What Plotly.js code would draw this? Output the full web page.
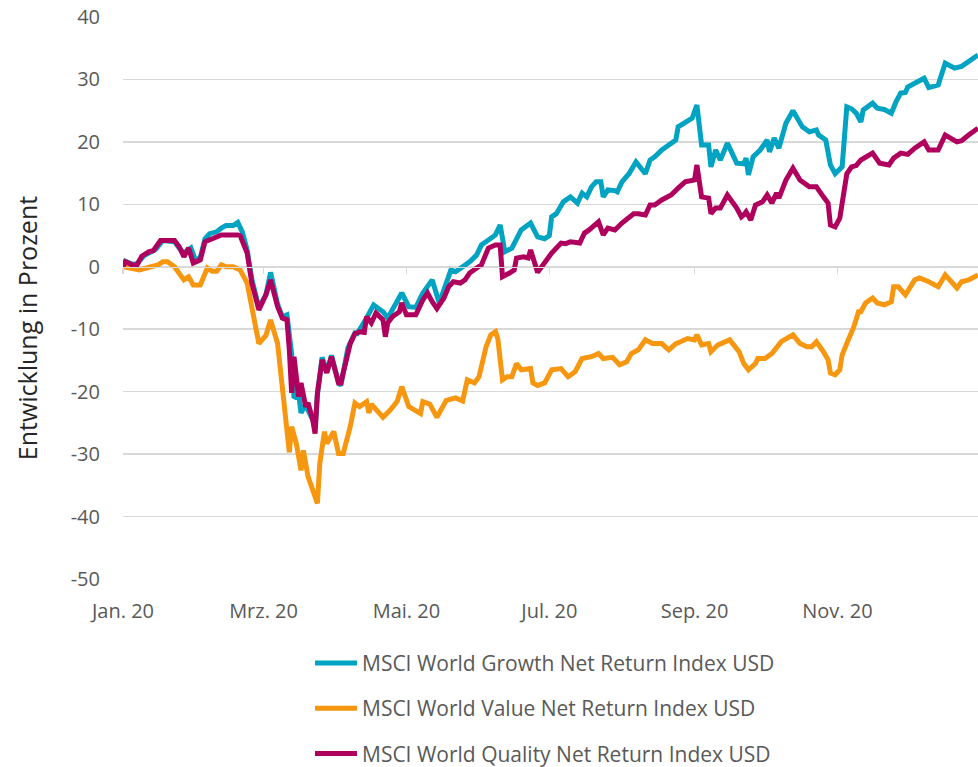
<!DOCTYPE html>
<html>
<head>
<meta charset="utf-8">
<script src="https://cdn.plot.ly/plotly-3.0.1.min.js"></script>
<style>html,body{margin:0;padding:0;background:#fff;}#chart{width:978px;height:767px;}</style>
</head>
<body>
<div id="chart"></div>
<script>
// ---- Data (percent change since 1 Jan 2020) ----
const seriesNames = [
  "MSCI World Growth Net Return Index USD",
  "MSCI World Value Net Return Index USD",
  "MSCI World Quality Net Return Index USD"
];

const growthDates = ["2020-01-01","2020-01-02","2020-01-05","2020-01-07","2020-01-10","2020-01-13","2020-01-15","2020-01-18","2020-01-23","2020-01-25","2020-01-27","2020-01-30","2020-02-01","2020-02-03","2020-02-05","2020-02-07","2020-02-10","2020-02-12","2020-02-14","2020-02-17","2020-02-19","2020-02-21","2020-02-23","2020-02-25","2020-02-28","2020-03-02","2020-03-04","2020-03-07","2020-03-09","2020-03-11","2020-03-13","2020-03-14","2020-03-16","2020-03-17","2020-03-19","2020-03-20","2020-03-22","2020-03-23","2020-03-24","2020-03-26","2020-03-28","2020-03-30","2020-04-02","2020-04-03","2020-04-06","2020-04-09","2020-04-10","2020-04-14","2020-04-17","2020-04-21","2020-04-23","2020-04-25","2020-04-29","2020-05-02","2020-05-05","2020-05-08","2020-05-11","2020-05-12","2020-05-15","2020-05-17","2020-05-20","2020-05-22","2020-05-25","2020-05-28","2020-05-31","2020-06-02","2020-06-05","2020-06-08","2020-06-10","2020-06-12","2020-06-15","2020-06-17","2020-06-19","2020-06-23","2020-06-26","2020-06-29","2020-07-01","2020-07-02","2020-07-04","2020-07-07","2020-07-10","2020-07-13","2020-07-15","2020-07-17","2020-07-19","2020-07-21","2020-07-23","2020-07-24","2020-07-26","2020-07-29","2020-07-30","2020-08-01","2020-08-04","2020-08-07","2020-08-09","2020-08-11","2020-08-13","2020-08-15","2020-08-18","2020-08-21","2020-08-24","2020-08-25","2020-08-28","2020-08-31","2020-09-02","2020-09-04","2020-09-07","2020-09-08","2020-09-10","2020-09-12","2020-09-15","2020-09-19","2020-09-22","2020-09-23","2020-09-24","2020-09-26","2020-09-29","2020-10-02","2020-10-03","2020-10-05","2020-10-07","2020-10-10","2020-10-13","2020-10-15","2020-10-17","2020-10-20","2020-10-23","2020-10-24","2020-10-27","2020-10-29","2020-10-31","2020-11-03","2020-11-05","2020-11-07","2020-11-09","2020-11-11","2020-11-12","2020-11-16","2020-11-18","2020-11-21","2020-11-24","2020-11-26","2020-11-28","2020-11-30","2020-12-01","2020-12-04","2020-12-08","2020-12-10","2020-12-14","2020-12-17","2020-12-21","2020-12-24","2020-12-27","2020-12-31"];
const growthValues = [0.2,0.9,0.4,0.5,1.8,2.4,2.8,4.2,4.0,3.0,2.2,3.0,1.0,1.5,4.5,5.3,5.6,6.2,6.6,6.6,7.1,5.5,2.7,-2.0,-6.5,-4.5,-0.9,-6.0,-8.0,-7.7,-14.0,-21.0,-20.5,-23.4,-22.0,-23.0,-24.5,-25.9,-20.5,-14.5,-16.8,-14.2,-18.5,-19.0,-13.0,-10.6,-10.7,-8.2,-6.1,-7.2,-8.2,-6.9,-4.2,-6.4,-6.5,-4.2,-2.4,-2.1,-5.8,-3.7,-0.5,-0.8,0.0,0.8,1.9,3.5,4.3,5.1,6.7,2.4,3.0,4.6,5.9,7.0,4.8,4.5,5.0,8.0,8.5,10.4,11.2,10.2,11.8,11.2,12.8,13.6,13.6,11.2,12.3,12.2,12.0,13.6,14.9,16.8,15.8,14.9,17.1,17.6,18.7,19.5,20.3,22.4,23.0,23.8,25.9,19.5,19.5,16.0,18.7,17.1,19.8,16.6,16.5,17.4,14.7,17.6,18.7,20.3,18.4,20.6,19.0,23.0,25.0,23.8,22.4,21.6,21.9,21.1,20.3,16.3,14.9,16.0,25.6,25.3,24.6,23.2,25.1,26.2,25.4,25.2,24.6,26.4,27.8,27.9,28.8,29.4,30.2,28.7,29.1,32.6,31.8,32.1,32.8,33.9];

const valueDates = ["2020-01-01","2020-01-08","2020-01-13","2020-01-16","2020-01-18","2020-01-20","2020-01-23","2020-01-25","2020-01-27","2020-01-29","2020-01-31","2020-02-03","2020-02-06","2020-02-08","2020-02-10","2020-02-12","2020-02-14","2020-02-17","2020-02-20","2020-02-23","2020-02-25","2020-02-28","2020-03-02","2020-03-03","2020-03-04","2020-03-07","2020-03-09","2020-03-12","2020-03-13","2020-03-15","2020-03-17","2020-03-18","2020-03-20","2020-03-22","2020-03-24","2020-03-25","2020-03-27","2020-03-28","2020-03-31","2020-04-02","2020-04-04","2020-04-07","2020-04-09","2020-04-11","2020-04-14","2020-04-15","2020-04-16","2020-04-21","2020-04-24","2020-04-27","2020-04-29","2020-05-02","2020-05-05","2020-05-07","2020-05-08","2020-05-11","2020-05-14","2020-05-18","2020-05-22","2020-05-25","2020-05-27","2020-05-30","2020-06-01","2020-06-03","2020-06-04","2020-06-06","2020-06-08","2020-06-09","2020-06-11","2020-06-13","2020-06-15","2020-06-17","2020-06-19","2020-06-23","2020-06-24","2020-06-26","2020-06-29","2020-07-02","2020-07-06","2020-07-09","2020-07-12","2020-07-15","2020-07-19","2020-07-22","2020-07-24","2020-07-28","2020-07-31","2020-08-03","2020-08-05","2020-08-08","2020-08-11","2020-08-14","2020-08-18","2020-08-21","2020-08-24","2020-08-26","2020-08-29","2020-09-01","2020-09-02","2020-09-04","2020-09-07","2020-09-08","2020-09-11","2020-09-16","2020-09-20","2020-09-22","2020-09-24","2020-09-27","2020-09-28","2020-10-01","2020-10-04","2020-10-08","2020-10-13","2020-10-16","2020-10-19","2020-10-21","2020-10-23","2020-10-26","2020-10-28","2020-10-29","2020-10-31","2020-11-02","2020-11-03","2020-11-05","2020-11-08","2020-11-10","2020-11-11","2020-11-13","2020-11-16","2020-11-18","2020-11-21","2020-11-24","2020-11-25","2020-11-27","2020-11-30","2020-12-04","2020-12-06","2020-12-10","2020-12-14","2020-12-17","2020-12-22","2020-12-24","2020-12-27","2020-12-31"];
const valueValues = [0.0,-0.5,0.0,0.3,0.8,0.8,0.0,-1.0,-2.1,-1.6,-2.9,-2.9,-0.2,-0.7,-0.7,0.3,0.0,0.0,-0.5,-2.6,-6.4,-12.3,-11.0,-9.8,-8.5,-12.3,-19.7,-29.7,-25.6,-28.3,-32.6,-29.4,-33.6,-35.7,-37.9,-31.5,-26.4,-28.3,-26.4,-29.9,-29.9,-25.6,-21.8,-22.4,-21.6,-23.4,-22.0,-24.1,-23.0,-21.6,-19.2,-22.4,-23.0,-23.5,-21.6,-22.0,-24.1,-21.4,-21.0,-21.5,-18.1,-18.6,-17.6,-14.4,-12.8,-10.9,-10.4,-11.5,-18.1,-17.6,-17.6,-15.5,-16.5,-16.3,-18.6,-19.0,-18.6,-16.5,-16.3,-17.6,-16.8,-14.7,-14.4,-13.9,-14.7,-14.5,-15.7,-15.2,-13.9,-13.3,-11.7,-12.3,-12.3,-13.3,-12.3,-12.0,-11.5,-11.7,-10.9,-12.5,-12.3,-13.6,-12.5,-11.7,-13.6,-15.5,-16.5,-15.5,-14.7,-14.7,-13.9,-12.0,-10.9,-12.3,-12.8,-12.8,-12.0,-13.6,-14.9,-17.0,-17.3,-16.5,-14.1,-12.3,-9.6,-7.2,-7.2,-5.8,-5.0,-5.8,-6.1,-5.6,-3.2,-3.2,-4.5,-2.1,-1.8,-2.4,-3.2,-1.3,-3.4,-2.4,-2.1,-1.3];

const qualityDates = ["2020-01-01","2020-01-02","2020-01-05","2020-01-07","2020-01-09","2020-01-12","2020-01-14","2020-01-17","2020-01-23","2020-01-25","2020-01-27","2020-01-29","2020-01-31","2020-02-03","2020-02-05","2020-02-07","2020-02-10","2020-02-12","2020-02-19","2020-02-20","2020-02-23","2020-02-25","2020-02-28","2020-03-02","2020-03-04","2020-03-07","2020-03-09","2020-03-11","2020-03-12","2020-03-13","2020-03-14","2020-03-16","2020-03-17","2020-03-19","2020-03-20","2020-03-22","2020-03-23","2020-03-24","2020-03-26","2020-03-28","2020-03-30","2020-04-02","2020-04-03","2020-04-06","2020-04-07","2020-04-09","2020-04-11","2020-04-13","2020-04-14","2020-04-16","2020-04-18","2020-04-21","2020-04-22","2020-04-23","2020-04-25","2020-04-28","2020-04-29","2020-05-01","2020-05-05","2020-05-08","2020-05-10","2020-05-12","2020-05-14","2020-05-17","2020-05-19","2020-05-21","2020-05-24","2020-05-26","2020-05-28","2020-05-31","2020-06-02","2020-06-05","2020-06-08","2020-06-10","2020-06-11","2020-06-14","2020-06-16","2020-06-17","2020-06-20","2020-06-22","2020-06-23","2020-06-26","2020-06-29","2020-07-02","2020-07-06","2020-07-08","2020-07-10","2020-07-14","2020-07-16","2020-07-18","2020-07-22","2020-07-24","2020-07-26","2020-07-29","2020-08-01","2020-08-04","2020-08-06","2020-08-08","2020-08-11","2020-08-13","2020-08-15","2020-08-18","2020-08-22","2020-08-25","2020-08-28","2020-09-01","2020-09-02","2020-09-04","2020-09-07","2020-09-08","2020-09-10","2020-09-12","2020-09-15","2020-09-19","2020-09-21","2020-09-22","2020-09-23","2020-09-25","2020-09-27","2020-09-30","2020-10-02","2020-10-04","2020-10-06","2020-10-07","2020-10-10","2020-10-13","2020-10-16","2020-10-20","2020-10-23","2020-10-26","2020-10-28","2020-10-29","2020-10-31","2020-11-02","2020-11-05","2020-11-07","2020-11-09","2020-11-11","2020-11-16","2020-11-19","2020-11-23","2020-11-25","2020-11-28","2020-12-01","2020-12-04","2020-12-08","2020-12-10","2020-12-14","2020-12-17","2020-12-22","2020-12-24","2020-12-27","2020-12-31"];
const qualityValues = [0.0,0.8,0.3,0.3,1.7,2.4,2.6,4.2,4.2,3.2,1.6,3.0,0.6,1.1,4.0,4.3,4.6,5.1,5.1,5.0,2.2,-2.6,-6.9,-4.5,-2.1,-6.4,-8.2,-8.5,-13.3,-20.2,-14.4,-20.8,-18.6,-22.4,-21.8,-24.5,-26.7,-20.2,-14.9,-17.0,-14.4,-18.6,-18.6,-13.3,-12.3,-10.7,-10.4,-10.5,-8.0,-9.0,-7.4,-8.5,-11.2,-9.0,-8.0,-7.2,-5.8,-7.7,-7.7,-5.3,-4.2,-5.6,-6.7,-5.0,-3.2,-2.4,-2.6,-2.1,-1.0,-0.2,0.3,3.0,3.5,3.5,-1.6,-1.0,-0.5,1.4,1.6,1.4,2.7,-0.9,0.6,2.2,3.8,3.7,4.0,3.8,5.4,5.9,7.2,5.1,6.2,5.9,7.0,7.8,8.5,8.5,8.3,9.9,9.9,10.7,11.5,12.6,13.6,13.9,16.3,11.2,11.0,8.5,9.4,9.4,11.5,9.4,8.0,8.3,8.8,7.5,9.9,10.4,11.5,10.2,11.8,11.0,13.9,15.8,13.9,12.8,12.8,11.2,10.2,6.7,6.4,7.8,14.9,16.0,16.2,17.1,18.2,16.6,16.3,17.4,18.2,18.0,19.0,20.0,18.7,18.7,21.1,20.0,20.2,21.1,22.2];

const xTickVals = ["2020-01-01","2020-03-01","2020-05-01","2020-07-01","2020-09-01","2020-11-01"];
const xTickText = ["Jan. 20","Mrz. 20","Mai. 20","Jul. 20","Sep. 20","Nov. 20"];
const yTickVals = [-50,-40,-30,-20,-10,0,10,20,30,40];
const yTickText = ["-50","-40","-30","-20","-10","0","10","20","30","40"];
const yTitle = "Entwicklung in Prozent";

// ---- Styling ----
const colors = ["#00A3C2", "#F7960F", "#B0005E"];
const FONT = "'Open Sans', 'Noto Sans', sans-serif";
const TXT = "#595959";
const GRID = "#D9D9D9";

const traces = [
  {x: growthDates, y: growthValues, name: seriesNames[0], legendgroup: "g", xaxis: "x"},
  {x: valueDates, y: valueValues, name: seriesNames[1], legendgroup: "v", xaxis: "x"},
  {x: qualityDates, y: qualityValues, name: seriesNames[2], legendgroup: "q", xaxis: "x2"}
].map((t, i) => Object.assign(t, {
  type: "scatter", mode: "lines", yaxis: "y",
  line: {color: colors[i], width: 5, shape: "linear"},
  hoverinfo: "skip"
}));

const layout = {
  width: 978, height: 767,
  margin: {l: 123, r: 0, t: 17, b: 188, autoexpand: false},
  paper_bgcolor: "#fff", plot_bgcolor: "#fff",
  font: {family: FONT, color: TXT, size: 20},
  showlegend: true,
  legend: {
    orientation: "v", x: 0.2187, xanchor: "left", y: -0.1135, yanchor: "top",
    font: {family: FONT, size: 21, color: TXT},
    itemwidth: 42, tracegroupgap: 15, traceorder: "grouped",
    bgcolor: "rgba(0,0,0,0)"
  },
  xaxis: {
    type: "date", range: ["2020-01-01", "2020-12-31"],
    tickmode: "array", tickvals: xTickVals, ticktext: xTickText,
    showgrid: false, zeroline: false, showline: false, ticks: "",
    ticklabelstandoff: 18,
    tickfont: {family: FONT, size: 20, color: TXT}
  },
  xaxis2: {
    type: "date", range: ["2020-01-01", "2020-12-31"], overlaying: "x",
    anchor: "free", position: 50 / 90, side: "bottom",
    tickmode: "array", tickvals: xTickVals,
    showticklabels: false, ticks: "outside", ticklen: 6, tickwidth: 1.5, tickcolor: GRID,
    showline: true, linecolor: GRID, linewidth: 1.5, showgrid: false, zeroline: false
  },
  yaxis: {
    range: [-50, 40], tickmode: "array", tickvals: yTickVals, ticktext: yTickText,
    showgrid: true, gridcolor: GRID, gridwidth: 1.5, zeroline: false, showline: false,
    ticks: "", ticklabelstandoff: 22,
    tickfont: {family: FONT, size: 20, color: TXT}
  },
  annotations: [{
    text: yTitle, xref: "paper", yref: "paper", x: -0.112, y: 0.4466,
    xanchor: "center", yanchor: "middle", textangle: -90, showarrow: false,
    font: {family: FONT, size: 25, color: "#262626"}
  }]
};

Plotly.newPlot("chart", traces, layout, {staticPlot: true, displayModeBar: false});
</script>
</body>
</html>
